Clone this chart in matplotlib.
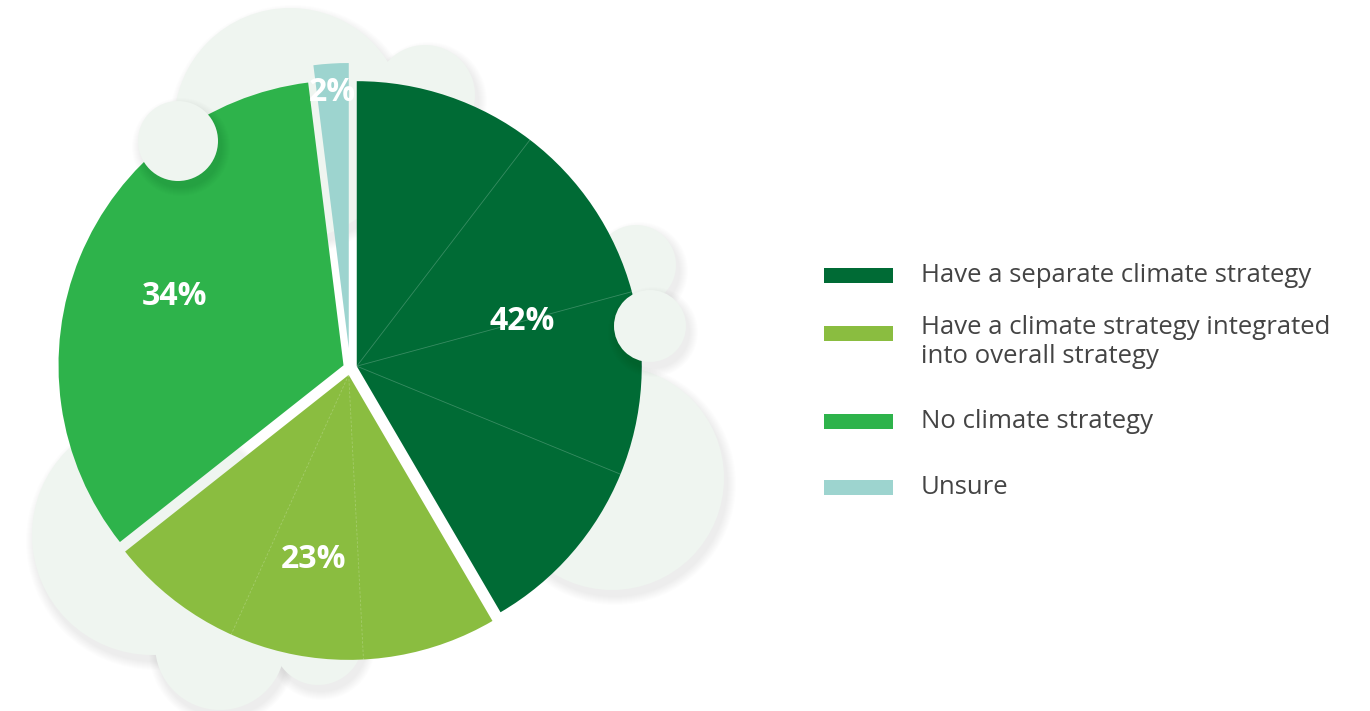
import numpy as np
import matplotlib
matplotlib.use("Agg")
import matplotlib.pyplot as plt
from matplotlib.patches import Circle, Rectangle

plt.rcParams['font.family'] = ['Open Sans', 'DejaVu Sans']

# Survey shares
categories = ['Have a separate climate strategy',
              'Have a climate strategy integrated\ninto overall strategy',
              'No climate strategy',
              'Unsure']
values = [42, 23, 34, 2]
pct_labels = ['42%', '23%', '34%', '2%']
colors = ['#006b35', '#8abd40', '#2eb34b', '#9dd4cf']
subdivisions = [4, 3, 1, 1]

W, H = 1370, 711
fig = plt.figure(figsize=(W / 100, H / 100), dpi=100)
ax = fig.add_axes([0, 0, 1, 1])

BUBBLE = '#eff5f0'


def bubble(x, y, r, z):
    # soft drop shadow, then the disc itself (y given from the top edge)
    y = H - y
    for k in range(9):
        ax.add_patch(Circle((x + 3, y - 6), r + 9 - k, color='black',
                            alpha=0.008, lw=0, zorder=z - 0.1))
    ax.add_patch(Circle((x, y), r, color=BUBBLE, lw=0, zorder=z))


# decorative bubbles behind the pie
for bx, by, br in [(290, 124, 116), (425, 95, 50), (636, 265, 40),
                   (612, 478, 112), (152, 535, 120), (220, 645, 65),
                   (318, 640, 45)]:
    bubble(bx, by, br, 0.5)

cx, cy, R = 350, H - 368, 285
wedges, _ = ax.pie(values, colors=colors, startangle=90, counterclock=False,
                   explode=[7, 7, 7, 20], radius=R, center=(cx, cy),
                   wedgeprops=dict(linewidth=0, zorder=2))

# thin divider lines inside the split wedges
for w, n in zip(wedges, subdivisions):
    if n < 2:
        continue
    wx, wy = w.center
    dashed = n == 3
    for k in range(1, n):
        a = np.deg2rad(w.theta1 + k * (w.theta2 - w.theta1) / n)
        ax.plot([wx, wx + w.r * np.cos(a)], [wy, wy + w.r * np.sin(a)],
                color='white', alpha=0.22, lw=0.6, zorder=2.5,
                linestyle=(0, (3, 2)) if dashed else '-')

# percentage labels
for w, txt, frac in zip(wedges, pct_labels, [0.6, 0.66, 0.64, 0.9]):
    wx, wy = w.center
    a = np.deg2rad(0.5 * (w.theta1 + w.theta2))
    ax.text(wx + frac * w.r * np.cos(a), wy + frac * w.r * np.sin(a), txt,
            color='white', fontsize=23, fontweight='bold',
            ha='center', va='center', zorder=6)

# bubbles overlapping the pie edge
for bx, by, br in [(178, 141, 40), (650, 326, 36)]:
    bubble(bx, by, br, 4)

# legend
rows_y = [276, 342, 422, 488]
patch_y = [275, 333, 421, 487]
for col, name, ty, py in zip(colors, categories, rows_y, patch_y):
    ax.add_patch(Rectangle((824, H - py - 7.5), 69, 15, color=col, lw=0, zorder=5))
    ax.text(921, H - ty, name, fontsize=18.5, color='#444444',
            ha='left', va='center', linespacing=1.2, zorder=5)

ax.set_xlim(0, W)
ax.set_ylim(0, H)
ax.set_aspect('equal')
ax.axis('off')

fig.savefig('out.png', dpi=100, facecolor='white')
